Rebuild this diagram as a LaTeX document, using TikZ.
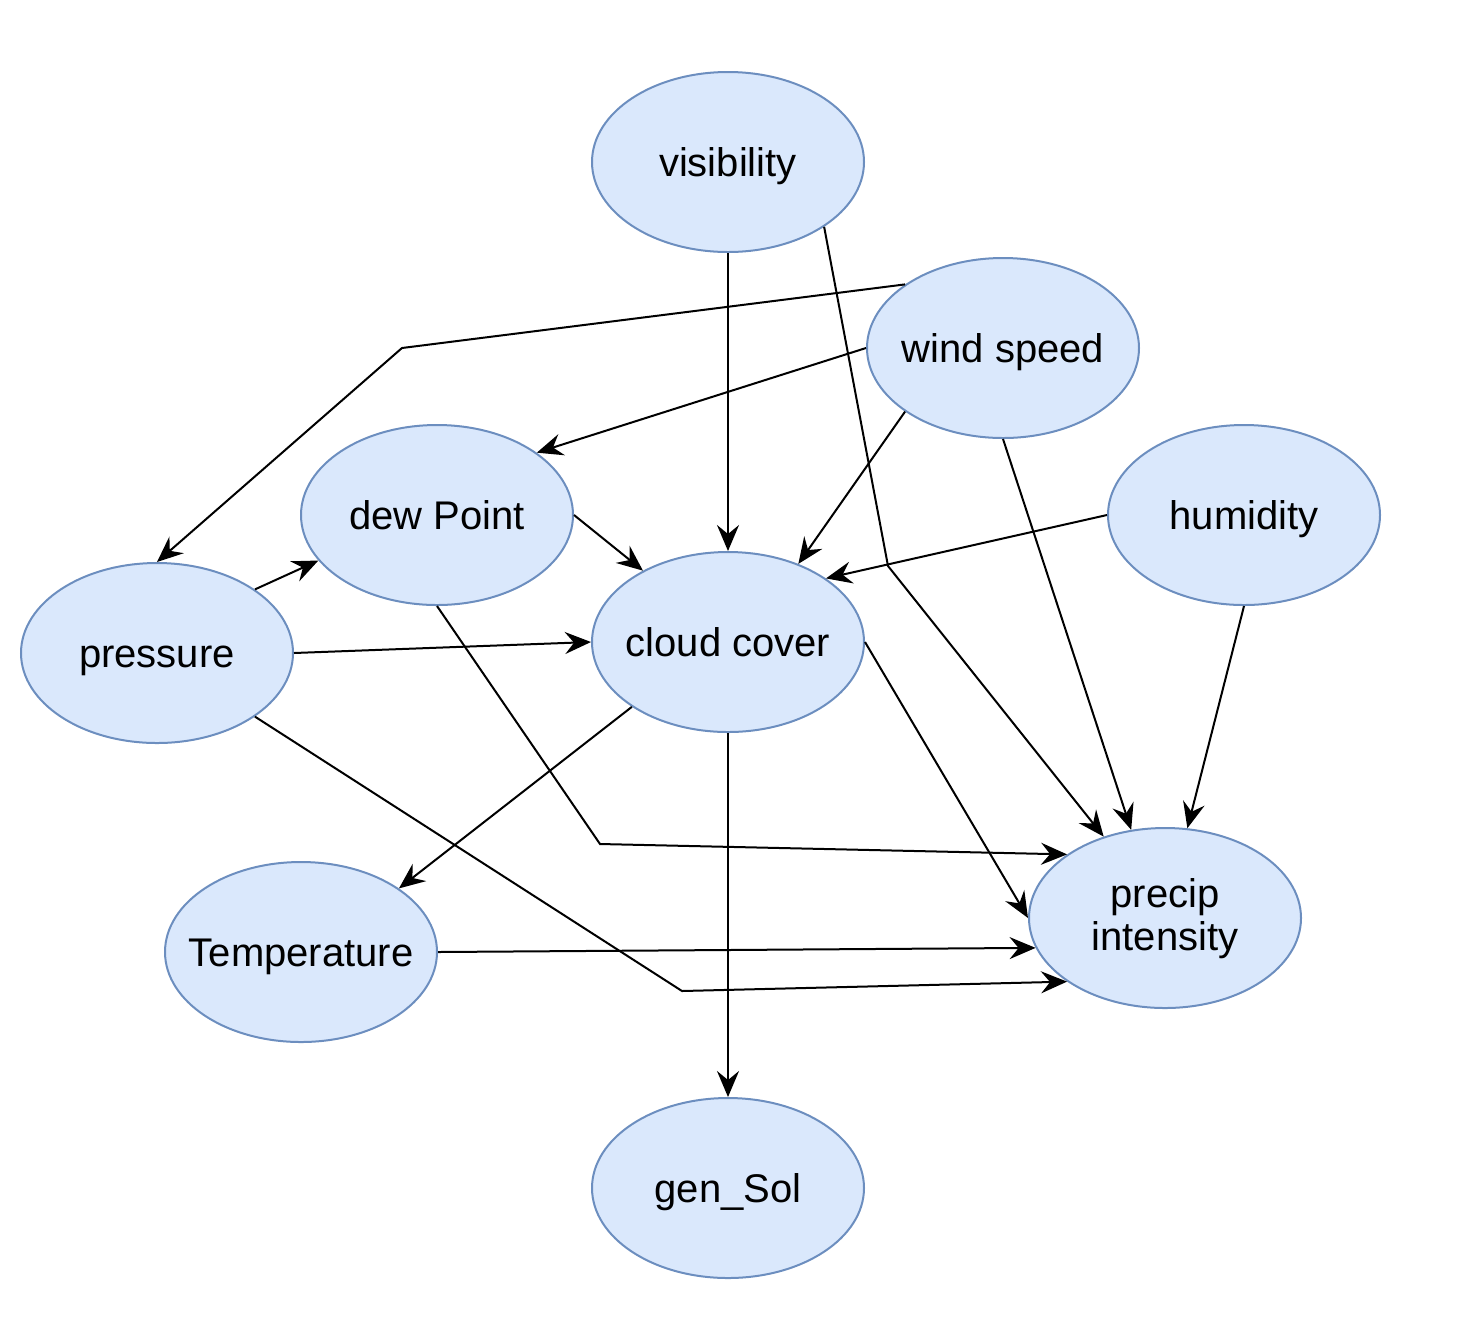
\documentclass[tikz,border=0pt]{standalone}
\usepackage{fontspec}
\setmainfont{Liberation Sans}
\usetikzlibrary{shapes.geometric,arrows.meta}
\definecolor{nodefill}{HTML}{DAE8FC}
\definecolor{nodeline}{HTML}{6C8EBF}
\newcommand{\zwr}[2]{\makebox[0pt]{\raisebox{#1}[0pt][0pt]{#2}}}
\newcommand{\zw}[1]{\zwr{-7pt}{#1}}
\begin{document}
\begin{tikzpicture}[x=0.5pt,y=-0.5pt,
  var/.style={ellipse,draw=nodeline,fill=nodefill,line width=1pt,
    minimum width=136pt,minimum height=90pt,inner sep=0pt,
    font=\fontsize{20}{23}\selectfont},
  edge/.style={line width=1pt,black,-{Stealth[length=13pt,width=11pt,inset=4.5pt]}}]
\useasboundingbox (0,0) rectangle (1482,1340);
\node[var] (vis) at (728,162) {\zw{visibility}};
\node[var] (ws) at (1003,348) {\zw{wind speed}};
\node[var] (dp) at (437,515) {\zw{dew Point}};
\node[var] (hum) at (1244,515) {\zw{humidity}};
\node[var] (pr) at (157,653) {\zw{pressure}};
\node[var] (cc) at (728,642) {\zw{cloud cover}};
\node[var] (tmp) at (301,952) {\zw{Temperature}};
\node[var] (pi) at (1165,918) {\zwr{5.5pt}{precip}\zwr{-16pt}{intensity}};
\node[var] (gs) at (728,1188) {\zw{gen\_Sol}};
\coordinate (b1) at (888,566);
\coordinate (b2) at (402,348);
\coordinate (b3) at (600,844);
\coordinate (b4) at (682,991);
\draw[edge] (vis.south) -- (cc.north);
\draw[edge] (vis.-34.5) -- (b1) -- (pi.127.6);
\draw[edge] (ws.147.7) -- (b2) -- (pr.north);
\draw[edge] (ws.180) -- (dp.32.2);
\draw[edge] (ws.213.7) -- (cc.48.2);
\draw[edge] (ws.south) -- (pi.111.3);
\draw[edge] (hum.west) -- (cc.33.1);
\draw[edge] (hum.south) -- (pi.76.3);
\draw[edge] (dp.east) -- (cc.140.4);
\draw[edge] (dp.south) -- (b3) -- (pi.147.7);
\draw[edge] (pr.33.6) -- (dp.201.9);
\draw[edge] (pr.east) -- (cc.west);
\draw[edge] (pr.-33.6) -- (b4) -- (pi.213.6);
\draw[edge] (cc.214.1) -- (tmp.33.3);
\draw[edge] (cc.east) -- (pi.west);
\draw[edge] (cc.south) -- (gs.north);
\draw[edge] (tmp.east) -- (pi.193);
\end{tikzpicture}
\end{document}
